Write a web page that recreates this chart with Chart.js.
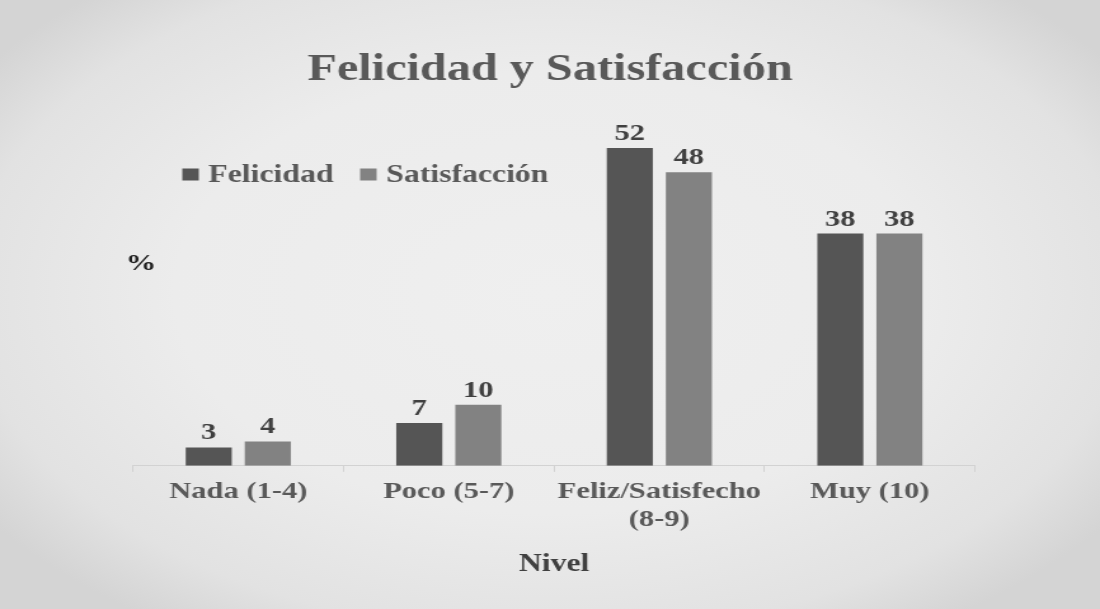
<!DOCTYPE html>
<html>
<head>
<meta charset="utf-8">
<script src="https://cdn.jsdelivr.net/npm/chart.js@4"></script>
<style>
  html, body { margin:0; padding:0; width:1100px; height:609px; overflow:hidden; }
  body { background: radial-gradient(ellipse 62% 66% at 50% 48%, #efefef 0%, #ececec 55%, #e2e2e2 85%, #d4d4d4 100%); }
  /* the original picture is stretched sideways, so the chart is drawn narrower and widened */
  #wrap { width:866px; height:609px; transform:scaleX(1.2702); transform-origin:0 0; }
</style>
</head>
<body>
<div id="wrap"><canvas id="chart"></canvas></div>
<script>
const categories = [['Nada (1-4)'], ['Poco (5-7)'], ['Feliz/Satisfecho', '(8-9)'], ['Muy (10)']];
const felicidad = [3, 7, 52, 38];
const satisfaccion = [4, 10, 48, 38];
const seriesNames = ['Felicidad', 'Satisfacción'];

const SERIF = '"Liberation Serif", "Times New Roman", serif';

// title, legend, % label and value labels
const decor = {
  id: 'decor',
  afterDatasetsDraw(chart){
    const ctx = chart.ctx;
    ctx.save();
    // title
    ctx.fillStyle = '#595959';
    ctx.font = 'bold 38px ' + SERIF;
    ctx.textAlign = 'center';
    ctx.textBaseline = 'alphabetic';
    ctx.fillText('Felicidad y Satisfacción', chart.width / 2, 80);
    // legend
    ctx.font = 'bold 25px ' + SERIF;
    ctx.textAlign = 'left';
    const legendX = [143.5, 283.5];
    chart.data.datasets.forEach((ds, i) => {
      ctx.fillStyle = ds.backgroundColor;
      ctx.fillRect(legendX[i], 168.5, 13, 12);
      ctx.fillStyle = '#595959';
      ctx.fillText(ds.label, legendX[i] + 20.5, 182);
    });
    // % label
    ctx.fillStyle = '#1f1f1f';
    ctx.font = 'bold 24px ' + SERIF;
    ctx.textAlign = 'center';
    ctx.fillText('%', 111, 270);
    // values above bars
    ctx.fillStyle = '#404040';
    chart.data.datasets.forEach((ds, i) => {
      chart.getDatasetMeta(i).data.forEach((bar, j) => {
        ctx.fillText(String(ds.data[j]), bar.x, bar.y - 8);
      });
    });
    ctx.restore();
  }
};

new Chart(document.getElementById('chart'), {
  type: 'bar',
  data: {
    labels: categories,
    datasets: [
      { label: seriesNames[0], data: felicidad, backgroundColor: '#555555' },
      { label: seriesNames[1], data: satisfaccion, backgroundColor: '#828282' }
    ]
  },
  options: {
    responsive: true,
    maintainAspectRatio: false,
    animation: false,
    categoryPercentage: 0.561,
    barPercentage: 0.78,
    layout: { padding: { top: 99, left: 104.7, right: 98.3, bottom: 29 } },
    plugins: { legend: { display: false }, title: { display: false }, tooltip: { enabled: false } },
    scales: {
      y: { display: false, min: 0, max: 60 },
      x: {
        grid: { offset: true, drawOnChartArea: false, drawTicks: true, tickLength: 6, color: '#d2d2d2' },
        border: { color: '#d2d2d2', width: 1 },
        ticks: { color: '#595959', padding: 6, autoSkip: false, maxRotation: 0, minRotation: 0,
                 font: { family: SERIF, size: 24, weight: 'bold', lineHeight: 1.17 } },
        title: { display: true, text: 'Nivel', color: '#404040', padding: { top: 10, bottom: 0 },
                 font: { family: SERIF, size: 25, weight: 'bold', lineHeight: 1.2 } }
      }
    }
  },
  plugins: [decor]
});
</script>
</body>
</html>
